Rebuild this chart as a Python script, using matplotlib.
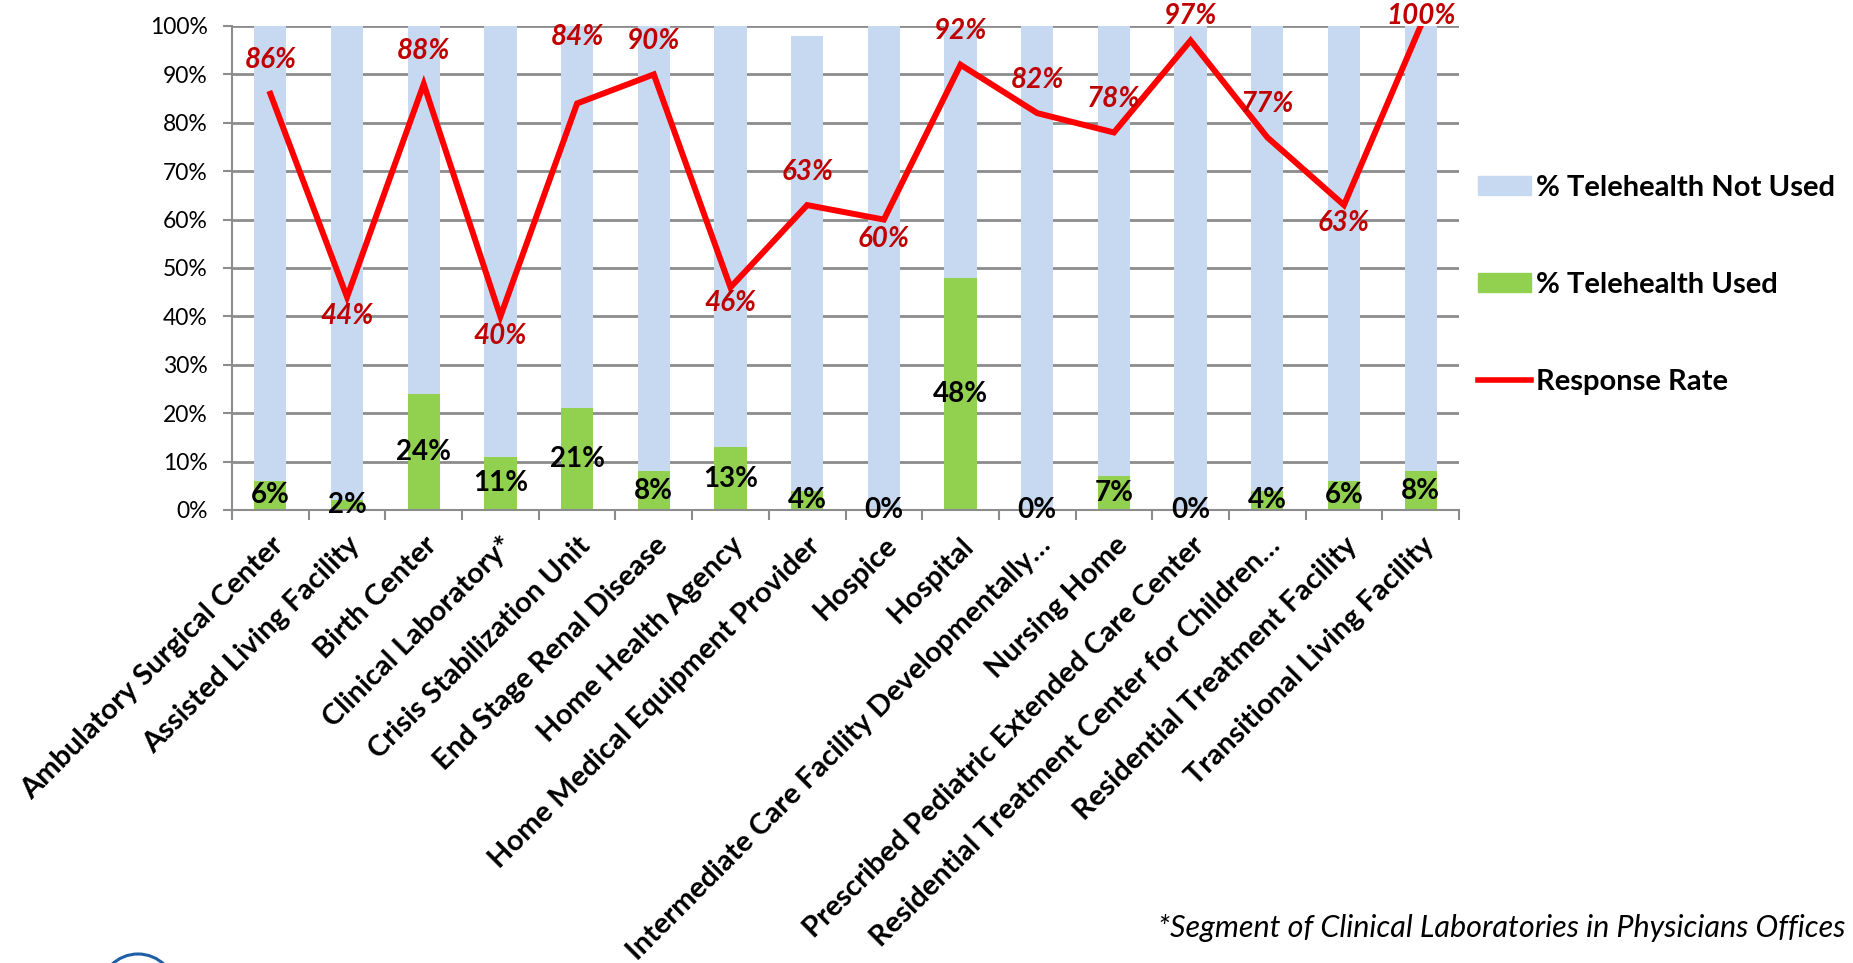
import numpy as np
import matplotlib.pyplot as plt
import matplotlib.transforms as mtransforms
from matplotlib.patches import Patch, Circle
from matplotlib.lines import Line2D

plt.rcParams['font.family'] = ['Lato', 'DejaVu Sans']

categories = [
    'Ambulatory Surgical Center', 'Assisted Living Facility', 'Birth Center',
    'Clinical Laboratory*', 'Crisis Stabilization Unit', 'End Stage Renal Disease',
    'Home Health Agency', 'Home Medical Equipment Provider', 'Hospice', 'Hospital',
    'Intermediate Care Facility Developmentally\u2026', 'Nursing Home',
    'Prescribed Pediatric Extended Care Center',
    'Residential Treatment Center for Children\u2026',
    'Residential Treatment Facility', 'Transitional Living Facility',
]
used = [6, 2, 24, 11, 21, 8, 13, 4, 0, 48, 0, 7, 0, 4, 6, 8]
not_used = [94, 98, 76, 89, 79, 92, 87, 94, 100, 52, 100, 93, 100, 96, 94, 92]
response_rate = [86, 44, 88, 40, 84, 90, 46, 63, 60, 92, 82, 78, 97, 77, 63, 100]

# vertical offset (points) of each response-rate label from its point
rate_label_dy = [24, -14, 24, -14, 48, 24, -11, 24, -14, 24, 24, 24, 24, 24, -13, 24]

BLUE = '#C6D9F1'
GREEN = '#92D050'
RED = '#FF0000'
DARK_RED = '#C00000'
GRID = '#8C8C8C'

W, H = 1853, 963
fig = plt.figure(figsize=(W / 100, H / 100), dpi=100)
ax_bottom, ax_top = 510, 26
ax = fig.add_axes([232 / W, 1 - ax_bottom / H, (1459 - 232) / W, (ax_bottom - ax_top) / H])

x = np.arange(len(categories))
u = np.array(used) / 100
nu = np.array(not_used) / 100
rr = np.array(response_rate) / 100

ax.bar(x, u, width=0.42, color=GREEN, zorder=2)
ax.bar(x, nu, width=0.42, bottom=u, color=BLUE, zorder=2)
ax.plot(x, rr, color=RED, lw=4.3, zorder=3, solid_joinstyle='miter')

for xi, v in zip(x, used):
    ax.text(xi, v / 200, f'{v}%', ha='center', va='center', fontsize=20,
            fontweight='bold', color='black', zorder=4)

# labels near the top are kept inside the figure
px_per_pt = 100 / 72
axis_px = ax_bottom - ax_top
for xi, v, dy in zip(x, response_rate, rate_label_dy):
    y = min(v / 100 + dy * px_per_pt / axis_px, 1.02)
    ax.text(xi, y, f'{v}%', ha='center', va='center', fontsize=20,
            fontweight='bold', fontstyle='italic', color=DARK_RED, zorder=4)

ax.set_xlim(-0.5, len(categories) - 0.5)
ax.set_ylim(0, 1)
ax.set_yticks(np.linspace(0, 1, 11))
ax.set_yticklabels([f'{int(t)}%' for t in np.linspace(0, 100, 11)], fontsize=16.5)
ax.yaxis.grid(True, color=GRID, lw=2, zorder=0)
ax.set_axisbelow(True)

ax.set_xticks(x)
ax.set_xticklabels(categories, rotation=45, ha='right', rotation_mode='anchor',
                   fontsize=21, fontweight='bold')
ax.tick_params(axis='x', length=0, pad=16)
shift = mtransforms.ScaledTranslation(0.0, 0, fig.dpi_scale_trans)
for lab in ax.get_xticklabels():
    lab.set_transform(lab.get_transform() + shift)
ax.set_xticks(np.arange(-0.5, len(categories)), minor=True)
ax.tick_params(axis='x', which='minor', length=7, width=1.5, color=GRID)
ax.tick_params(axis='y', length=6.5, width=1.5, color=GRID, pad=11)

for side in ('top', 'right'):
    ax.spines[side].set_visible(False)
for side in ('left', 'bottom'):
    ax.spines[side].set_color(GRID)
    ax.spines[side].set_linewidth(1.5)

handles = [Patch(color=BLUE), Patch(color=GREEN), Line2D([], [], color=RED, lw=4)]
labels = ['% Telehealth Not Used', '% Telehealth Used', 'Response Rate']
fig.legend(handles, labels, loc='upper left', bbox_to_anchor=(1478 / W, 1 - 175 / H),
           frameon=False, prop={'weight': 'bold', 'size': 21}, handlelength=1.8,
           handleheight=0.62, handletextpad=0.2, labelspacing=2.43, borderpad=0,
           borderaxespad=0)

fig.text(1846 / W, 1 - 928 / H, '*Segment of Clinical Laboratories in Physicians Offices',
         ha='right', va='center', fontsize=22, fontstyle='italic')

# partial logo ring at the lower-left edge
fig.patches.append(Circle((1.38, (H - 992) / 100), 0.38, transform=fig.dpi_scale_trans,
                          fill=False, ec='#1F5FA8', lw=2.2))

fig.savefig('out.png', dpi=100)
